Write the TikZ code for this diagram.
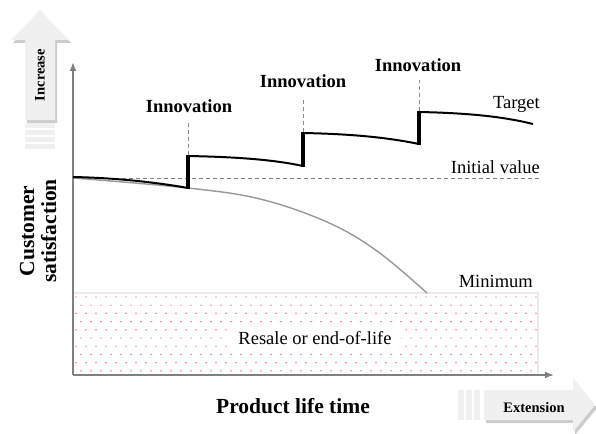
\documentclass[tikz,border=0pt]{standalone}
\usepackage{fontspec}
\setmainfont{Liberation Serif}
\usetikzlibrary{arrows.meta,shadows}

\definecolor{dotred}{RGB}{232,60,90}

\tikzset{
  label/.style={font=\fontsize{18.5}{20}\selectfont, inner sep=0pt},
  innolabel/.style={font=\fontsize{18.5}{20}\selectfont\bfseries, inner sep=0pt, anchor=base},
  axislabel/.style={font=\fontsize{21.5}{22}\selectfont\bfseries, inner sep=0pt, align=center},
  bigarrow/.style={fill=black!6, draw=none, drop shadow={opacity=0.4, shadow xshift=2pt, shadow yshift=-3pt}},
  stripe/.style={fill=black!6, draw=none},
}

\begin{document}
\begin{tikzpicture}[x=1pt, y=-1pt]
  %%%%% START %%%%%
  \useasboundingbox (0, 0) rectangle (596, 433);

  % zone below the minimum
  \draw[line width=0.4mm, color=black!8] (73, 293) -- (538, 293) -- (538, 375);
  \begin{scope}
    \clip (73, 293) rectangle (538, 375);
    \foreach \r in {0,...,9}
      \foreach \c in {0,...,46}
        \fill[dotred] ({76+10*\c+5*mod(\r,2)}, {297+8.2*\r}) circle[radius=0.7pt];
  \end{scope}
  \node[label, fill=white, inner xsep=9pt, inner ysep=9pt] (zone) at (315, 338) {Resale or end-of-life};

  % axes
  \draw[line width=0.6mm, color=black!50, -{Latex[length=9pt, width=7pt]}] (73, 375) -- (73, 62);
  \draw[line width=0.6mm, color=black!50, -{Latex[length=9pt, width=7pt]}] (73, 375) -- (554, 375);

  % initial value
  \draw[line width=0.3mm, color=black!50, dash pattern=on 4pt off 3pt] (73, 178) -- (540, 178);
  \node[label, anchor=base east] (initial) at (540, 173) {Initial value};

  % decay without innovation
  \draw[line width=0.5mm, color=black!40] plot[smooth, tension=0.6] coordinates {(73, 178) (188, 188) (260, 199) (327, 222) (377, 251) (427, 293)};
  \node[label, anchor=base east] (minimum) at (533, 287) {Minimum};

  % innovation steps
  \draw[line width=0.25mm, color=black!45, dash pattern=on 4pt off 3pt] (188, 155) -- (188, 121);
  \draw[line width=0.25mm, color=black!45, dash pattern=on 4pt off 3pt] (303, 132) -- (303, 97);
  \draw[line width=0.25mm, color=black!45, dash pattern=on 4pt off 3pt] (419, 111) -- (419, 80);

  \draw[line width=0.7mm, line join=miter]
    (73, 177) .. controls (120, 178) and (160, 183) .. (188, 188)
    (188, 156) .. controls (240, 157) and (275, 160) .. (303, 166)
    (303, 133) .. controls (355, 134) and (390, 138) .. (419, 144)
    (419, 112) .. controls (470, 113) and (505, 117) .. (533, 124);
  \draw[line width=1.1mm] (188, 189) -- (188, 155);
  \draw[line width=1.1mm] (303, 167) -- (303, 132);
  \draw[line width=1.1mm] (419, 145) -- (419, 111);

  \node[innolabel] (inno1) at (189, 113) {Innovation};
  \node[innolabel] (inno2) at (303, 88) {Innovation};
  \node[innolabel] (inno3) at (418, 72) {Innovation};
  \node[label, anchor=base east] (target) at (540, 108) {Target};

  % axis titles
  \node[axislabel, rotate=90] (ytitle) at (38, 231) {Customer\\satisfaction};
  \node[axislabel, anchor=base] (xtitle) at (293, 413) {Product life time};

  % increase arrow
  \fill[bigarrow] (25, 120) -- (25, 40) -- (11, 40) -- (40, 10) -- (69, 40) -- (55, 40) -- (55, 120) -- cycle;
  \foreach \yy in {123, 130, 137, 144}
    \fill[stripe] (25, \yy) rectangle (55, \yy+5);
  \node[font=\fontsize{14.5}{15}\selectfont\bfseries, inner sep=0pt, rotate=90] (increase) at (40, 75) {Increase};

  % extension arrow
  \fill[bigarrow] (484, 390) -- (573, 390) -- (573, 378) -- (595, 405) -- (573, 432) -- (573, 420) -- (484, 420) -- cycle;
  \foreach \xx in {458, 466, 474}
    \fill[stripe] (\xx, 390) rectangle (\xx+6, 420);
  \node[font=\fontsize{14.5}{15}\selectfont\bfseries, inner sep=0pt, anchor=base] (extension) at (534, 412) {Extension};

  %%%%% END %%%%%
\end{tikzpicture}
\end{document}
